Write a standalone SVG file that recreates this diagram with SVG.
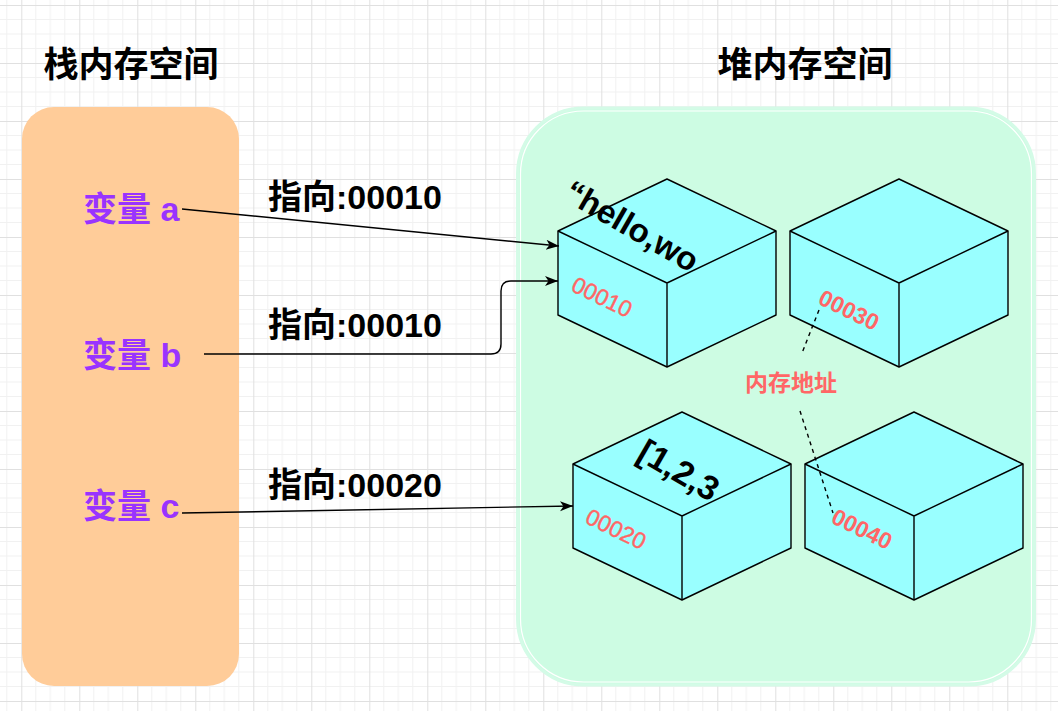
<svg xmlns="http://www.w3.org/2000/svg" width="1058" height="711" viewBox="0 0 1058 711">
<style>
.t{font-family:"Liberation Sans","Noto Sans CJK SC",sans-serif;font-weight:bold}
.title{font-size:35px;fill:#000;text-anchor:middle}
.var{font-size:34px;fill:#9933FF}
.lbl{font-size:34px;fill:#000}
.addr{font-size:22px;fill:#FF6666;text-anchor:middle;dominant-baseline:central}
.reg{font-weight:normal;font-size:23px;stroke:#FF6666;stroke-width:0.4}
.val{font-size:33px;fill:#000;text-anchor:middle;dominant-baseline:central}
.cube{fill:#99FFFF;stroke:#000;stroke-width:1.4;stroke-linejoin:round}
.edge{fill:none;stroke:#000;stroke-width:1.4}
.dash{fill:none;stroke:#000;stroke-width:1.4;stroke-dasharray:4 4}
</style>
<defs>
<pattern id="grid" patternUnits="userSpaceOnUse" x="21.3" y="5" width="58" height="58">
<path d="M14.5 0V58M29 0V58M43.5 0V58M0 14.5H58M0 29H58M0 43.5H58" stroke="#f1f1f1" stroke-width="1"/>
<path d="M0.5 0V58M0 0.5H58" stroke="#e0e0e0" stroke-width="1"/>
</pattern>
<marker id="arr" markerUnits="userSpaceOnUse" markerWidth="14" markerHeight="12" refX="13" refY="6" orient="auto">
<path d="M0,1 L13,6 L0,11 L3.5,6 Z" fill="#000"/>
</marker>
</defs>
<rect width="1058" height="711" fill="#fff"/>
<rect width="1058" height="711" fill="url(#grid)"/>

<g id="stack">
<rect x="22" y="107" width="217" height="579" rx="32" fill="#FFCC99"/>
</g>
<g id="heap">
<rect x="517.5" y="108" width="517" height="577" rx="66" fill="#CDFCE3" stroke="#D4FBE7" stroke-width="3"/>
<rect x="520.5" y="111" width="511" height="571" rx="63" fill="none" stroke="#fff" stroke-width="1.2"/>
</g>

<g id="title-stack"><text class="t title" x="131" y="77">栈内存空间</text></g>
<g id="title-heap"><text class="t title" x="805" y="77">堆内存空间</text></g>

<g id="var-a"><text class="t var" x="83" y="221">变量 a</text></g>
<g id="var-b"><text class="t var" x="83" y="367">变量 b</text></g>
<g id="var-c"><text class="t var" x="83" y="518">变量 c</text></g>

<g id="cube1">
<path class="cube" d="M667,179 L776,231 L776,315 L667,367 L558,315 L558,231 Z"/>
<path class="cube" d="M558,231 L667,283 L776,231 M667,283 L667,367" fill="none"/>
<text class="t val" transform="translate(632,226) rotate(30)">“hello,wo</text>
<text class="t addr reg" transform="translate(602,297) rotate(26)">00010</text>
</g>
<g id="cube2">
<path class="cube" d="M899,179 L1008,231 L1008,315 L899,367 L790,315 L790,231 Z"/>
<path class="cube" d="M790,231 L899,283 L1008,231 M899,283 L899,367" fill="none"/>
<text class="t addr" style="font-size:23px" transform="translate(849,310) rotate(26)">00030</text>
</g>
<g id="cube3">
<path class="cube" d="M682,412 L791,464 L791,548 L682,600 L573,548 L573,464 Z"/>
<path class="cube" d="M573,464 L682,516 L791,464 M682,516 L682,600" fill="none"/>
<text class="t val" style="font-size:34px" transform="translate(679,470) rotate(30)">[1,2,3</text>
<text class="t addr reg" transform="translate(616,529) rotate(26)">00020</text>
</g>
<g id="cube4">
<path class="cube" d="M914,412 L1023,464 L1023,548 L914,600 L805,548 L805,464 Z"/>
<path class="cube" d="M805,464 L914,516 L1023,464 M914,516 L914,600" fill="none"/>
<text class="t addr" style="font-size:23px" transform="translate(862,529) rotate(26)">00040</text>
</g>

<g id="connectors">
<path class="edge" d="M182,209 L559,246" marker-end="url(#arr)"/>
<path class="edge" d="M204,354 L491,354 Q501,354 501,344 L501,291 Q501,281 511,281 L558,281" marker-end="url(#arr)"/>
<path class="edge" d="M182,513 L573,506" marker-end="url(#arr)"/>
<path class="dash" d="M819,310 L802,353"/>
<path class="dash" d="M800,411 L833,513"/>
<text class="t lbl" x="268" y="209">指向:00010</text>
<text class="t lbl" x="268" y="337">指向:00010</text>
<text class="t lbl" x="268" y="497">指向:00020</text>
<text class="t" x="791" y="391" font-size="23" fill="#FF6666" text-anchor="middle">内存地址</text>
</g>
</svg>
